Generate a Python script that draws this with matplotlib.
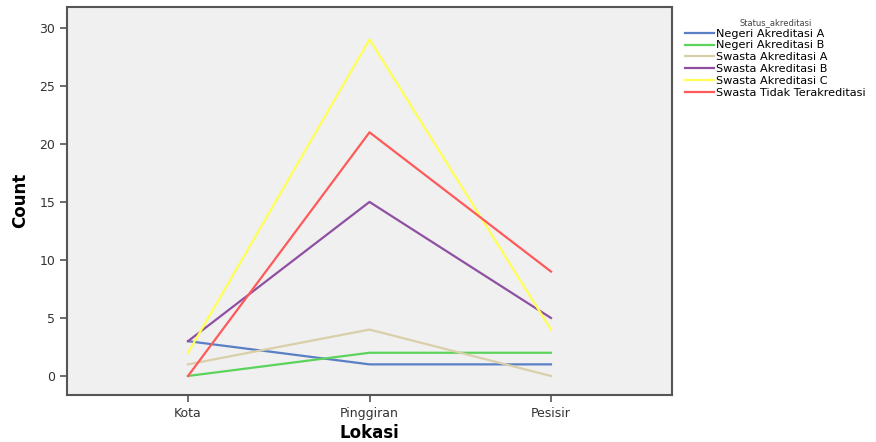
import matplotlib.pyplot as plt
import numpy as np

lokasi = ['Kota', 'Pinggiran', 'Pesisir']
status = ['Negeri Akreditasi A', 'Negeri Akreditasi B', 'Swasta Akreditasi A',
          'Swasta Akreditasi B', 'Swasta Akreditasi C', 'Swasta Tidak Terakreditasi']
negeri_a = [3, 1, 1]
negeri_b = [0, 2, 2]
swasta_a = [1, 4, 0]
swasta_b = [3, 15, 5]
swasta_c = [2, 29, 4]
swasta_tidak = [0, 21, 9]
yticks = [0, 5, 10, 15, 20, 25, 30]

series = [negeri_a, negeri_b, swasta_a, swasta_b, swasta_c, swasta_tidak]
colors = ['#5b7fc4', '#5cd45c', '#d9cfaa', '#9050a2', '#ffff55', '#ff5a5a']

fig = plt.figure(figsize=(8.76, 4.42), dpi=100)
ax = fig.add_axes([67/876, 1 - 395/442, (672 - 67)/876, (395 - 7)/442])
ax.set_facecolor('#f0f0f0')

x = np.arange(len(lokasi))
for vals, c, lab in zip(series, colors, status):
    ax.plot(x, vals, '-', color=c, lw=1.6, label=lab)

ax.set_xlim(-0.667, 2.667)
ax.set_ylim(-1.64, 31.8)
ax.set_xticks(x)
ax.set_xticklabels(lokasi, fontsize=9, color='#333333')
ax.set_yticks(yticks)
ax.set_yticklabels([str(v) for v in yticks], fontsize=9, color='#333333')
ax.tick_params(direction='out', length=5, width=1.2, color='#555555')
for s in ax.spines.values():
    s.set_color('#555555')
    s.set_linewidth(1.5)

fig.text(369/876, 1 - 433/442, 'Lokasi', fontsize=12, fontweight='bold',
         ha='center', va='center')
fig.text(20/876, 1 - 200/442, 'Count', rotation=90, fontsize=12, fontweight='bold',
         ha='center', va='center', family='Liberation Sans Narrow')

leg = fig.legend(loc='upper left', bbox_to_anchor=(677/876, 1 - 10/442), frameon=False,
                 title='Status_akreditasi', title_fontsize=6, fontsize=8.1,
                 handlelength=2.6, handletextpad=0.2, labelspacing=0.16,
                 borderpad=0.2)
leg.get_title().set_color('#444444')

plt.savefig('out.png', dpi=100)
